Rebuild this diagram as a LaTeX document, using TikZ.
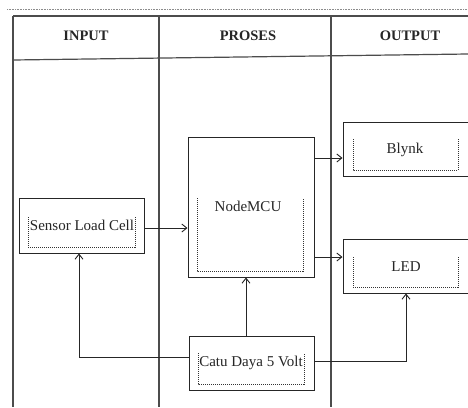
\documentclass[tikz,border=0pt]{standalone}
\usepackage{fontspec}
\setmainfont{Liberation Serif}
\usetikzlibrary{arrows.meta}
\begin{document}
\begin{tikzpicture}[x=1pt,y=-1pt,
  tline/.style={draw=black!70,line width=1.2pt},
  box/.style={draw=black!85,line width=1pt,rectangle,inner sep=0pt},
  dots/.style={draw=black!80,line width=0.8pt,dash pattern=on 1pt off 1pt},
  lbl/.style={font=\fontsize{15}{17}\selectfont,inner sep=0pt,text=black!85},
  hdr/.style={font=\fontsize{14.5}{16}\selectfont\bfseries,inner sep=0pt,text=black!85},
  conn/.style={draw=black!85,line width=1pt},
  arr/.style={conn,-{Straight Barb[length=5pt,width=8pt,line width=0.9pt]}}]
\useasboundingbox (0,0) rectangle (468,407);
\fill[white] (0,0) rectangle (468,407);
% top dotted line
\draw[draw=black!45,line width=0.9pt,dash pattern=on 0.8pt off 0.8pt] (7,9.5) -- (468,9.5);
% table
\draw[tline] (13,16) -- (468,16);
\draw[tline] (13,60) -- (468,54);
\draw[tline] (13,16) -- (13,407);
\draw[tline] (159,16) -- (159,407);
\draw[tline] (331,16) -- (331,407);
% headers
\node[hdr] (hin) at (86,36) {INPUT};
\node[hdr] (hpr) at (248,36) {PROSES};
\node[hdr] (hout) at (410,36) {OUTPUT};
% boxes
\node[box,minimum width=125,minimum height=55] (sensor) at (81.5,225.5) {};
\node[box,minimum width=126,minimum height=140] (mcu) at (251,207) {};
\node[box,minimum width=125,minimum height=54] (blynk) at (405.5,149) {};
\node[box,minimum width=125,minimum height=54] (led) at (405.5,266) {};
\node[box,minimum width=125,minimum height=54] (catu) at (251.5,363) {};
% dotted inner frames
\draw[dots] (28,217) -- (28,247) -- (135,247) -- (135,217);
\draw[dots] (197,198) -- (197,271) -- (303,271) -- (303,198);
\draw[dots] (353,139) -- (353,170) -- (458,170) -- (458,139);
\draw[dots] (353,257) -- (353,287) -- (458,287) -- (458,257);
\draw[dots] (198,353) -- (198,384) -- (304,384) -- (304,353);
% texts
\node[lbl] (tsensor) at (82,225) {Sensor Load Cell};
\node[lbl] (tmcu) at (248,206) {NodeMCU};
\node[lbl] (tblynk) at (405,150) {Blynk};
\node[lbl] (tled) at (406,267) {LED};
\node[lbl] (tcatu) at (251,363) {Catu Daya 5 Volt};
% connector helper coordinates
\coordinate (ys) at (0,228);
\coordinate (yb) at (0,158);
\coordinate (yl) at (0,257);
\coordinate (xl) at (79,0);
\coordinate (xm) at (246,0);
\coordinate (xr) at (406,0);
\coordinate (yc1) at (0,357);
\coordinate (yc2) at (0,361);
% connectors
\draw[arr] (sensor.east |- ys) -- (mcu.west |- ys);
\draw[arr] (mcu.east |- yb) -- (blynk.west |- yb);
\draw[arr] (mcu.east |- yl) -- (led.west |- yl);
\draw[arr] (catu.north -| xm) -- (mcu.south -| xm);
\draw[arr] (catu.west |- yc1) -| (sensor.south -| xl);
\draw[arr] (catu.east |- yc2) -| (led.south -| xr);
\end{tikzpicture}
\end{document}
